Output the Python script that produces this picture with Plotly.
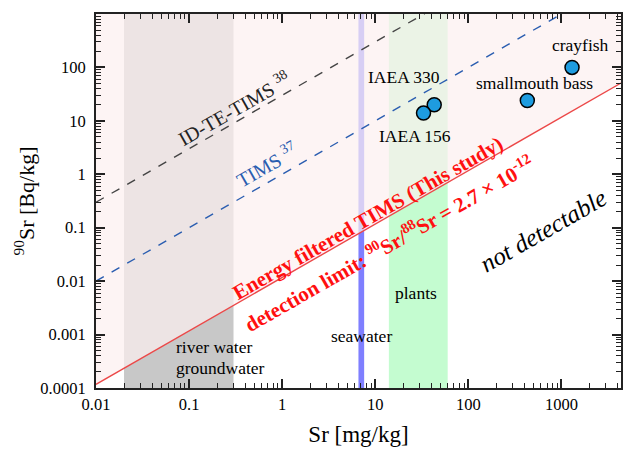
import numpy as np
import plotly.graph_objects as go

# ---- data ----
sample_names = ["crayfish", "smallmouth bass", "IAEA 330", "IAEA 156"]
sample_sr = [1300, 430, 43, 33]          # Sr [mg/kg]
sample_sr90 = [100, 24, 20, 14]          # 90Sr [Bq/kg]

# detection limits: 90Sr activity per mg/kg Sr
limit_this_study = 0.0117
limit_tims = 1.0
limit_idte = 30.0

# Sr concentration ranges [mg/kg]
river_range = [0.02, 0.3]
seawater_range = [6.6, 7.6]
plants_range = [14, 60]

x_tickvals = [0.01, 0.1, 1, 10, 100, 1000]
x_ticktext = ["0.01", "0.1", "1", "10", "100", "1000"]
y_tickvals = [0.0001, 0.001, 0.01, 0.1, 1, 10, 100]
y_ticktext = ["0.0001", "0.001", "0.01", "0.1", "1", "10", "100"]

XR = [-2, 3.64]
YR = [-4, 3]
FONT = "Liberation Serif"

xmin, xmax = 10 ** XR[0], 10 ** XR[1]
ymin, ymax = 10 ** YR[0], 10 ** YR[1]
xs = np.array([xmin, xmax])

fig = go.Figure()

# bands (below everything)
band_defs = [(river_range, "#c8c8c8"), (seawater_range, "#7f7fff"), (plants_range, "#c4fcd0")]
for rng, col in band_defs:
    fig.add_shape(type="rect", xref="x", yref="y", x0=rng[0], x1=rng[1], y0=ymin, y1=ymax,
                  fillcolor=col, line_width=0, layer="below")

# detectable region (above this-study limit)
fig.add_trace(go.Scatter(
    x=[xmin, xmax, xmax, xmin, xmin],
    y=[limit_this_study * xmin, limit_this_study * xmax, ymax, ymax, limit_this_study * xmin],
    fill="toself", fillcolor="rgba(252,239,239,0.70)", line=dict(width=0),
    mode="lines", hoverinfo="skip", showlegend=False))

# limit lines
fig.add_trace(go.Scatter(x=xs, y=limit_idte * xs, mode="lines",
                         line=dict(color="#444444", width=1.4, dash="dash"), showlegend=False))
fig.add_trace(go.Scatter(x=xs, y=limit_tims * xs, mode="lines",
                         line=dict(color="#2a5db0", width=1.4, dash="dash"), showlegend=False))
fig.add_trace(go.Scatter(x=xs, y=limit_this_study * xs, mode="lines",
                         line=dict(color="#ec4848", width=1.4), showlegend=False))

# samples
fig.add_trace(go.Scatter(x=sample_sr, y=sample_sr90, mode="markers",
                         marker=dict(size=14, color="#1e9ce0", line=dict(color="black", width=1.5)),
                         showlegend=False))

ANG = -29.76
def ann(x, y, text, size=17.5, color="black", angle=0, xanchor="center", bold=False, italic=False):
    t = text
    if bold:
        t = "<b>" + t + "</b>"
    if italic:
        t = "<i>" + t + "</i>"
    fig.add_annotation(x=x, y=y, xref="x", yref="y", text=t, showarrow=False,
                       textangle=angle, xanchor=xanchor, yanchor="middle",
                       font=dict(family=FONT, size=size, color=color))

ann(3.207, 2.42, "crayfish")
ann(2.714, 1.709, "smallmouth bass")
ann(1.312, 1.821, "IAEA 330")
ann(1.43, 0.717, "IAEA 156")
ann(-0.518, 1.241, "ID-TE-TIMS <sup>38</sup>", size=20, color="#222222", angle=ANG)
ann(-0.164, 0.193, "TIMS <sup>37</sup>", size=20, color="#2a5db0", angle=ANG)
ann(0.921, -0.813, "Energy filtered TIMS (This study)", size=21, color="#ff1010", angle=ANG, bold=True)
ann(1.147, -1.291, "detection limit: <sup>90</sup>Sr/<sup>88</sup>Sr = 2.7 × 10<sup>-12</sup>",
    size=21, color="#ff1010", angle=ANG, bold=True)
ann(2.81, -1.061, "not detectable", size=25, angle=ANG, italic=True)
ann(1.44, -2.222, "plants")
ann(0.852, -3.027, "seawater")
ann(-1.16, -3.233, "river water", xanchor="left")
ann(-1.16, -3.626, "groundwater", xanchor="left")

axis_common = dict(type="log", showgrid=False, zeroline=False, showline=True, linecolor="#222222",
                   linewidth=2, mirror="ticks", ticks="inside", ticklen=9, tickwidth=1.5,
                   tickcolor="#222222",
                   minor=dict(ticks="inside", ticklen=5, tickwidth=1.2, tickcolor="#222222",
                              dtick="D1", showgrid=False),
                   tickfont=dict(family=FONT, size=16.5, color="black"))

fig.update_xaxes(range=XR, tickvals=x_tickvals, ticktext=x_ticktext,
                 title=dict(text="Sr [mg/kg]", font=dict(family=FONT, size=23, color="black"), standoff=13),
                 **axis_common)
fig.update_yaxes(range=YR, tickvals=y_tickvals, ticktext=y_ticktext, ticklabelstandoff=5,
                 title=dict(text="<sup>90</sup>Sr [Bq/kg]", font=dict(family=FONT, size=22, color="black"), standoff=0),
                 **axis_common)

fig.update_layout(width=624, height=450, margin=dict(l=96, r=1, t=14, b=62),
                  plot_bgcolor="white", paper_bgcolor="white")

fig.write_html("out.html")
